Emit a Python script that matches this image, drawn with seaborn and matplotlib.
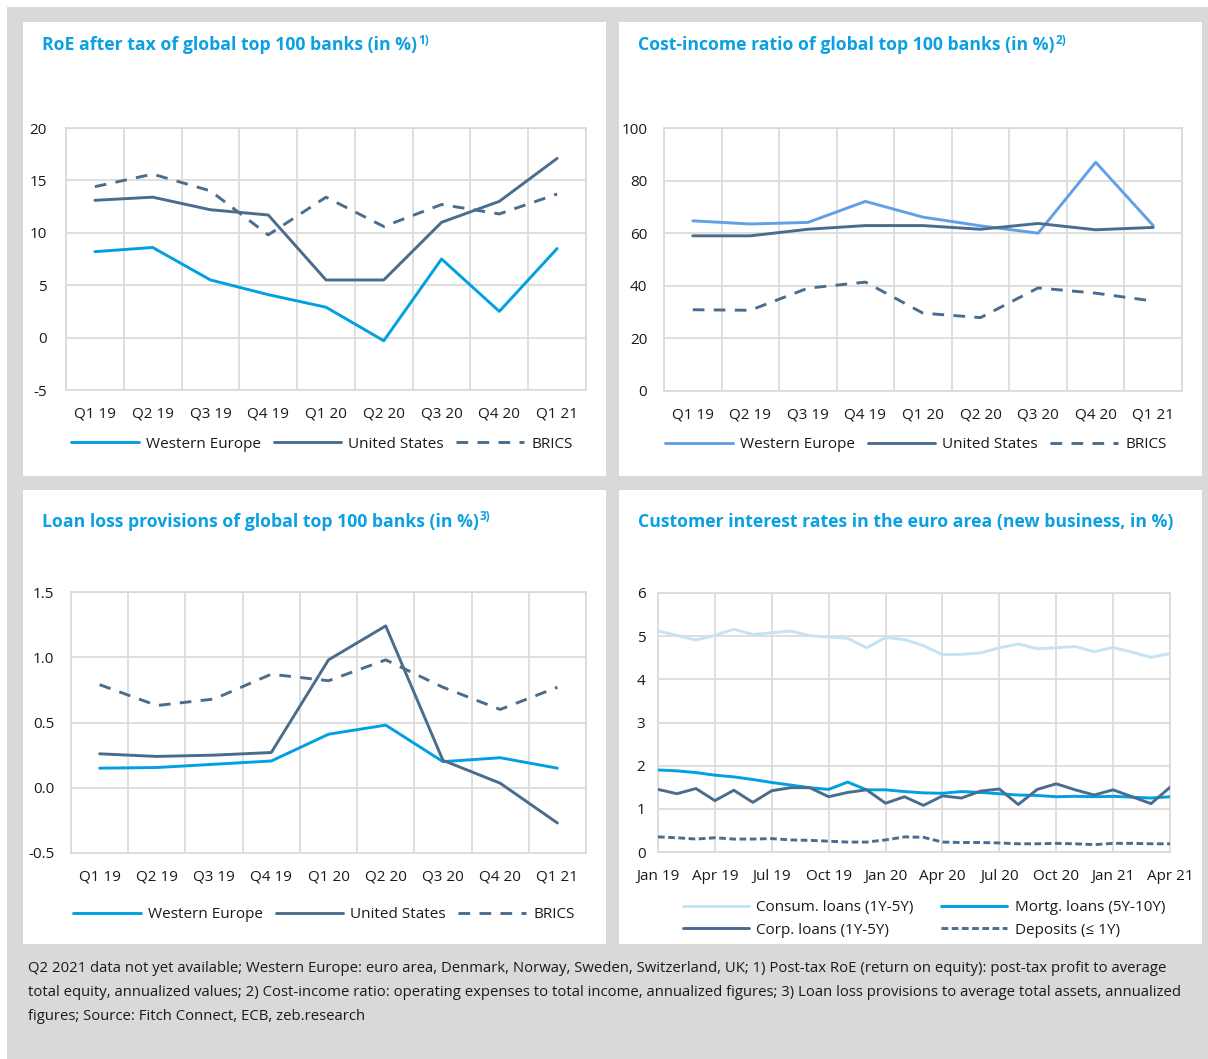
import numpy as np
import pandas as pd
import matplotlib
matplotlib.use("Agg")
import matplotlib.pyplot as plt
import seaborn as sns
from matplotlib.patches import Rectangle
from matplotlib.lines import Line2D

sns.set_theme(style="white")
plt.rcParams["font.family"] = ["Open Sans", "DejaVu Sans"]
plt.rcParams["axes.unicode_minus"] = False

# ---------------- data ----------------
quarters = ["Q1 19", "Q2 19", "Q3 19", "Q4 19", "Q1 20", "Q2 20", "Q3 20", "Q4 20", "Q1 21"]

roe_we = [8.2, 8.6, 5.5, 4.1, 2.9, -0.3, 7.5, 2.5, 8.5]
roe_us = [13.1, 13.4, 12.2, 11.7, 5.5, 5.5, 11.0, 13.0, 17.1]
roe_brics = [14.4, 15.6, 14.0, 9.8, 13.4, 10.6, 12.7, 11.8, 13.7]

cir_we = [64.7, 63.5, 64.1, 72.1, 66.1, 62.8, 60.0, 87.0, 62.9]
cir_us = [59.0, 59.0, 61.5, 62.9, 62.9, 61.5, 63.7, 61.3, 62.2]
cir_brics = [30.9, 30.7, 39.1, 41.4, 29.6, 27.9, 39.2, 37.2, 34.2]

llp_we = [0.15, 0.155, 0.18, 0.205, 0.41, 0.48, 0.20, 0.23, 0.15]
llp_us = [0.26, 0.24, 0.25, 0.27, 0.98, 1.24, 0.21, 0.035, -0.27]
llp_brics = [0.79, 0.63, 0.68, 0.87, 0.82, 0.98, 0.77, 0.60, 0.77]

month_ticks = ["Jan 19", "Apr 19", "Jul 19", "Oct 19", "Jan 20", "Apr 20",
               "Jul 20", "Oct 20", "Jan 21", "Apr 21"]
consum_loans = [5.12, 5.02, 4.91, 5.02, 5.16, 5.04, 5.08, 5.12, 5.01, 4.98, 4.95, 4.73,
                4.97, 4.92, 4.78, 4.57, 4.58, 4.61, 4.73, 4.82, 4.71, 4.73, 4.76, 4.64,
                4.74, 4.63, 4.51, 4.60]
mortg_loans = [1.90, 1.88, 1.84, 1.78, 1.74, 1.68, 1.61, 1.55, 1.49, 1.45, 1.62, 1.44,
               1.44, 1.40, 1.37, 1.36, 1.40, 1.38, 1.35, 1.32, 1.31, 1.28, 1.29, 1.28,
               1.29, 1.27, 1.25, 1.28]
corp_loans = [1.45, 1.35, 1.47, 1.19, 1.43, 1.15, 1.42, 1.49, 1.49, 1.28, 1.38, 1.44,
              1.13, 1.28, 1.08, 1.30, 1.25, 1.41, 1.46, 1.10, 1.45, 1.58, 1.44, 1.32,
              1.44, 1.28, 1.12, 1.50]
deposits = [0.35, 0.33, 0.30, 0.33, 0.30, 0.30, 0.31, 0.28, 0.27, 0.25, 0.23, 0.23,
            0.28, 0.35, 0.34, 0.23, 0.22, 0.22, 0.21, 0.19, 0.19, 0.20, 0.19, 0.17,
            0.20, 0.20, 0.19, 0.19]

# ---------------- style ----------------
BLUE = "#00a0e3"
LBLUE = "#62a0e6"
SLATE = "#4b6d8d"
PALE = "#c4e4f6"
GRID = "#d9d9d9"
BG = "#d9d9d9"
TITLE = "#0aa0e1"
TXT = "#1a1a1a"

W, H = 1208, 1059
fig = plt.figure(figsize=(W / 100, H / 100), dpi=100)
fig.patch.set_facecolor("white")


def fr(x0, y0, x1, y1):
    return [x0 / W, 1 - y1 / H, (x1 - x0) / W, (y1 - y0) / H]


fig.add_artist(Rectangle((7 / W, 0), 1 - 7 / W, 1 - 7 / H, transform=fig.transFigure,
                         facecolor=BG, edgecolor="none", zorder=-3))
for (x0, y0, x1, y1) in [(23, 22, 606, 476), (619, 22, 1202, 476),
                         (23, 490, 606, 944), (619, 490, 1202, 944)]:
    r = fr(x0, y0, x1, y1)
    fig.add_artist(Rectangle((r[0], r[1]), r[2], r[3], transform=fig.transFigure,
                             facecolor="white", edgecolor="none", zorder=-2))


def style_axes(ax, ypad):
    for s in ax.spines.values():
        s.set_color(GRID)
        s.set_linewidth(1.2)
    ax.tick_params(axis="both", length=0, labelsize=11, labelcolor=TXT)
    ax.tick_params(axis="y", pad=ypad)
    ax.set_xlabel("")
    ax.set_ylabel("")


def add_title(x, y, text, sup=None):
    t = fig.text(x / W, 1 - y / H, text, fontsize=12.7, fontweight="bold",
                 color=TITLE, ha="left", va="center")
    if sup:
        fig.canvas.draw()
        bb = t.get_window_extent()
        fig.text((bb.x1 + 1) / W, 1 - (y - 5) / H, sup, fontsize=8.5, fontweight="bold",
                 color=TITLE, ha="left", va="center")


def quarter_panel(rect, series, ylim, yticks, ylabels, ypad, leg_xy):
    ax = fig.add_axes(fr(*rect))
    for name, vals, color, ls in series:
        df = pd.DataFrame({"x": np.arange(len(quarters)), "y": vals})
        sns.lineplot(data=df, x="x", y="y", ax=ax, color=color, linewidth=2.1,
                     linestyle=ls, label=name, legend=False, zorder=3)
    ax.set_xlim(-0.5, len(quarters) - 0.5)
    ax.set_ylim(*ylim)
    ax.set_xticks(np.arange(len(quarters)))
    ax.set_xticklabels(quarters)
    ax.set_xticks(np.arange(-0.5, len(quarters), 1), minor=True)
    ax.set_yticks(yticks)
    ax.set_yticklabels(ylabels)
    ax.grid(False)
    ax.grid(True, which="minor", axis="x", color=GRID, linewidth=1.2)
    ax.grid(True, which="major", axis="y", color=GRID, linewidth=1.2)
    ax.tick_params(axis="x", which="both", pad=12)
    style_axes(ax, ypad)
    handles = [Line2D([], [], color=c, linewidth=2.1, linestyle=ls) for _, _, c, ls in series]
    labels = [n for n, _, _, _ in series]
    fig.legend(handles, labels, loc="center", bbox_to_anchor=(leg_xy[0] / W, 1 - leg_xy[1] / H),
               ncol=3, frameon=False, fontsize=11, handlelength=4.4, handletextpad=0.5,
               columnspacing=0.8, labelcolor=TXT)
    return ax


DASH = (0, (4, 3.2))

quarter_panel((66, 128, 586, 390),
              [("Western Europe", roe_we, BLUE, "-"),
               ("United States", roe_us, SLATE, "-"),
               ("BRICS", roe_brics, SLATE, DASH)],
              (-5, 20), [-5, 0, 5, 10, 15, 20], ["-5", "0", "5", "10", "15", "20"], 14,
              (322, 444))
add_title(42, 45, "RoE after tax of global top 100 banks (in %)", "1)")

quarter_panel((664, 128, 1182, 391),
              [("Western Europe", cir_we, LBLUE, "-"),
               ("United States", cir_us, SLATE, "-"),
               ("BRICS", cir_brics, SLATE, DASH)],
              (0, 100), [0, 20, 40, 60, 80, 100], ["0", "20", "40", "60", "80", "100"], 12,
              (916, 445))
add_title(638, 45, "Cost-income ratio of global top 100 banks (in %)", "2)")

quarter_panel((71, 592, 586, 853),
              [("Western Europe", llp_we, BLUE, "-"),
               ("United States", llp_us, SLATE, "-"),
               ("BRICS", llp_brics, SLATE, DASH)],
              (-0.5, 1.5), [-0.5, 0, 0.5, 1.0, 1.5], ["-0.5", "0.0", "0.5", "1.0", "1.5"], 12,
              (324, 915))
add_title(42, 522, "Loan loss provisions of global top 100 banks (in %)", "3)")

# ---- customer interest rates (monthly) ----
ax = fig.add_axes(fr(658, 593, 1170, 852))
n = len(consum_loans)
rate_series = [("Consum. loans (1Y-5Y)", consum_loans, PALE, "-"),
               ("Mortg. loans (5Y-10Y)", mortg_loans, BLUE, "-"),
               ("Corp. loans (1Y-5Y)", corp_loans, SLATE, "-"),
               ("Deposits (\u2264 1Y)", deposits, SLATE, (0, (2.3, 1.2)))]
for name, vals, color, ls in rate_series:
    df = pd.DataFrame({"m": np.arange(n), "v": vals})
    sns.lineplot(data=df, x="m", y="v", ax=ax, color=color, linewidth=2.1,
                 linestyle=ls, legend=False, zorder=3)
ax.set_xlim(0, n - 1)
ax.set_ylim(0, 6)
ax.set_xticks(np.arange(0, n, 3))
ax.set_xticklabels(month_ticks)
ax.set_yticks(range(0, 7))
ax.grid(True, axis="both", color=GRID, linewidth=1.2)
ax.tick_params(axis="x", pad=12)
style_axes(ax, 9)
# legend filled column-wise -> order so that rows read Consum/Mortg, Corp/Deposits
leg_order = [0, 2, 1, 3]
handles = [Line2D([], [], color=rate_series[i][2], linewidth=2.1, linestyle=rate_series[i][3])
           for i in leg_order]
labels = [rate_series[i][0] for i in leg_order]
fig.legend(handles, labels, loc="center", bbox_to_anchor=(924 / W, 1 - 919 / H),
           ncol=2, frameon=False, fontsize=11, handlelength=4.3, handletextpad=0.5,
           columnspacing=1.8, labelspacing=0.5, labelcolor=TXT)
add_title(638, 522, "Customer interest rates in the euro area (new business, in %)")

# ---- footnote ----
foot = ["Q2 2021 data not yet available; Western Europe: euro area, Denmark, Norway, Sweden, Switzerland, UK; 1) Post-tax RoE (return on equity): post-tax profit to average",
        "total equity, annualized values; 2) Cost-income ratio: operating expenses to total income, annualized figures; 3) Loan loss provisions to average total assets, annualized",
        "figures; Source: Fitch Connect, ECB, zeb.research"]
for i, line in enumerate(foot):
    fig.text(28 / W, 1 - (968 + 24 * i) / H, line, fontsize=10.7, color=TXT,
             ha="left", va="center")

fig.savefig("out.png", dpi=100, facecolor=fig.get_facecolor())
